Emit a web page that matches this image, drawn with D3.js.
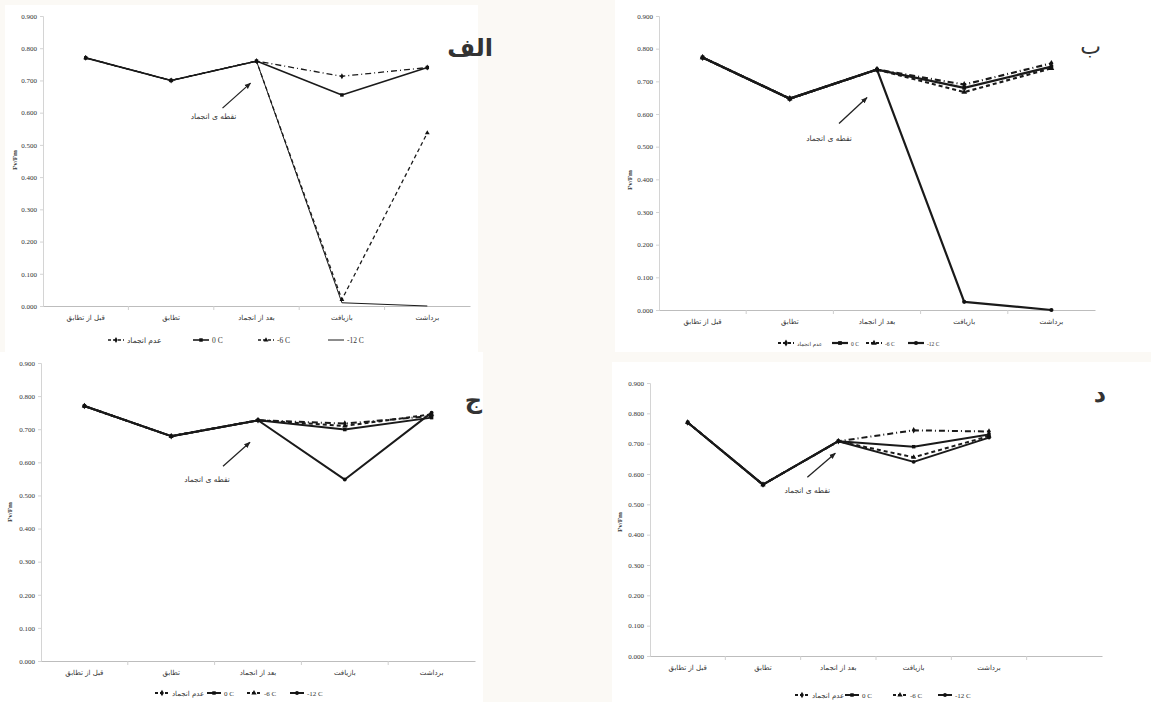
<!DOCTYPE html>
<html>
<head>
<meta charset="utf-8">
<script src="https://cdn.jsdelivr.net/npm/d3@7"></script>
<style>
  body { margin: 0; background: #fbf9f5; }
  svg { display: block; }
  text { font-family: 'Liberation Serif', 'DejaVu Serif', serif; fill: #333; }
  .ar { font-family: 'DejaVu Sans', sans-serif; }
</style>
</head>
<body>
<div id="graph"></div>
<script>
var categories = ['قبل از تطابق', 'تطابق', 'بعد از انجماد', 'بازیافت', 'برداشت']
var seriesNames = ['عدم انجماد', '0 C', '-6 C', '-12 C']
var yTicks = [0, 0.1, 0.2, 0.3, 0.4, 0.5, 0.6, 0.7, 0.8, 0.9]

// panel alef
var alefNoFreeze = [0.770, 0.700, 0.760, 0.713, 0.740]
var alefZero     = [0.770, 0.700, 0.760, 0.655, 0.740]
var alefMinus6   = [0.770, 0.700, 0.760, 0.020, 0.537]
var alefMinus12  = [0.770, 0.700, 0.760, 0.010, 0.000]

// panel be
var beNoFreeze = [0.773, 0.647, 0.736, 0.690, 0.755]
var beZero     = [0.773, 0.647, 0.736, 0.680, 0.745]
var beMinus6   = [0.773, 0.647, 0.736, 0.667, 0.740]
var beMinus12  = [0.773, 0.647, 0.736, 0.025, 0.000]

// panel jim
var jimNoFreeze = [0.770, 0.679, 0.727, 0.717, 0.740]
var jimZero     = [0.770, 0.679, 0.727, 0.699, 0.735]
var jimMinus6   = [0.770, 0.679, 0.727, 0.710, 0.745]
var jimMinus12  = [0.770, 0.679, 0.727, 0.548, 0.750]

// panel dal
var dalNoFreeze = [0.770, 0.565, 0.708, 0.744, 0.740]
var dalZero     = [0.770, 0.565, 0.708, 0.690, 0.730]
var dalMinus6   = [0.770, 0.565, 0.708, 0.655, 0.725]
var dalMinus12  = [0.770, 0.565, 0.708, 0.640, 0.720]

var W = 1151, H = 702
var svg = d3.select('#graph').append('svg').attr('width', W).attr('height', H)

svg.append('defs').append('marker')
  .attr('id', 'arrow').attr('viewBox', '0 0 10 10')
  .attr('refX', 9).attr('refY', 5)
  .attr('markerWidth', 5).attr('markerHeight', 5)
  .attr('orient', 'auto')
  .append('path').attr('d', 'M0,1L10,5L0,9z').attr('fill', '#222')

var dashes = ['6,3,1,3', null, '4,3', null]
var shapes = [d3.symbolDiamond, d3.symbolSquare, d3.symbolTriangle, d3.symbolCircle]

var panels = [
  {
    series: [alefNoFreeze, alefZero, alefMinus6, alefMinus12],
    bg: [5, 5, 473, 347], left: 43, right: 470, top: 16, bottom: 306, slots: 5,
    lw: [1.3, 1.6, 1.3, 1], ms: [10, 12, 10, 0],
    label: 'الف', labelPos: [493, 56], labelSize: 24, labelWeight: 700,
    yTitle: [17, 160],
    arrow: [-34, 47, -6, 22], note: [-43, 58],
    legendY: 340, legendX: [108, 193, 258, 328], legendW: 16, legendFont: 7.5
  },
  {
    series: [beNoFreeze, beZero, beMinus6, beMinus12],
    bg: [615, 0, 536, 352], left: 659, right: 1095, top: 16, bottom: 310, slots: 5,
    lw: [2.2, 2.2, 2.2, 2.2], ms: [14, 14, 14, 14],
    label: 'ب', labelPos: [1101, 54], labelSize: 22, labelWeight: 400,
    yTitle: [632, 180],
    arrow: [-38, 54, -10, 28], note: [-48, 71],
    legendY: 343, legendX: [778, 832, 866, 908], legendW: 16, legendFont: 5.5
  },
  {
    series: [jimNoFreeze, jimZero, jimMinus6, jimMinus12],
    bg: [0, 352, 483, 350], left: 41, right: 475, top: 363, bottom: 661, slots: 5,
    lw: [2, 2, 2, 2], ms: [12, 12, 12, 12],
    label: 'ج', labelPos: [482, 408], labelSize: 24, labelWeight: 700,
    yTitle: [12, 512],
    arrow: [-35, 46, -8, 22], note: [-51, 62],
    legendY: 693, legendX: [155, 207, 247, 290], legendW: 14, legendFont: 7
  },
  {
    series: [dalNoFreeze, dalZero, dalMinus6, dalMinus12],
    bg: [612, 362, 539, 340], left: 650, right: 1102, top: 383, bottom: 656, slots: 6,
    lw: [2, 2, 2, 2], ms: [12, 12, 12, 12],
    label: 'د', labelPos: [1106, 402], labelSize: 24, labelWeight: 700,
    yTitle: [622, 522],
    arrow: [-31, 36, -3, 12], note: [-31, 52],
    legendY: 695, legendX: [795, 845, 893, 938], legendW: 14, legendFont: 7
  }
]

panels.forEach(drawPanel)

function drawPanel(p) {
  var g = svg.append('g')
  g.append('rect')
    .attr('x', p.bg[0]).attr('y', p.bg[1]).attr('width', p.bg[2]).attr('height', p.bg[3])
    .attr('fill', '#fff')

  var x = d3.scaleBand().domain(d3.range(p.slots)).range([p.left, p.right])
  var cx = i => x(i) + x.bandwidth() / 2
  var y = d3.scaleLinear().domain([0, 0.9]).range([p.bottom, p.top])

  // y axis
  var ya = g.append('g').attr('transform', `translate(${p.left},0)`)
    .call(d3.axisLeft(y).tickValues(yTicks).tickFormat(d3.format('.3f')).tickSize(3).tickPadding(3))
  ya.select('.domain').attr('stroke', '#d4d4d4')
  ya.selectAll('.tick line').attr('stroke', '#d4d4d4')
  ya.selectAll('.tick text').attr('font-size', 7).attr('font-family', 'Liberation Serif').attr('fill', '#444')

  // x axis
  var xa = g.append('g').attr('transform', `translate(0,${y(0)})`)
    .call(d3.axisBottom(x).tickSize(0).tickFormat(''))
  xa.select('.domain').attr('stroke', '#bdbdbd').attr('stroke-width', 1.2)
  g.selectAll('.bnd').data(d3.range(1, p.slots)).join('line')
    .attr('x1', d => x(d)).attr('x2', d => x(d))
    .attr('y1', y(0)).attr('y2', y(0) + 4).attr('stroke', '#cfcfcf')

  g.selectAll('.cat').data(categories).join('text')
    .attr('class', 'ar')
    .attr('x', (d, i) => cx(i)).attr('y', y(0) + 14)
    .attr('text-anchor', 'middle').attr('font-size', 7).attr('fill', '#555')
    .text(d => d)

  // y title
  g.append('text')
    .attr('transform', `translate(${p.yTitle[0]},${p.yTitle[1]}) rotate(-90)`)
    .attr('text-anchor', 'middle').attr('font-size', 7).attr('font-weight', 700)
    .text('Fv/Fm')

  // lines
  var line = d3.line().x((d, i) => cx(i)).y(d => y(d))
  var order = [3, 2, 1, 0]
  order.forEach(s => {
    g.append('path')
      .attr('d', line(p.series[s]))
      .attr('fill', 'none').attr('stroke', '#1a1a1a')
      .attr('stroke-width', p.lw[s])
      .attr('stroke-dasharray', dashes[s])
      .attr('stroke-linejoin', 'round')
    if (p.ms[s]) {
      g.selectAll(null).data(p.series[s]).join('path')
        .attr('transform', (d, i) => `translate(${cx(i)},${y(d)})`)
        .attr('d', d3.symbol(shapes[s], p.ms[s]))
        .attr('fill', '#111')
    }
  })

  // freezing point note
  var ax = cx(2), ay = y(p.series[0][2])
  g.append('line')
    .attr('x1', ax + p.arrow[0]).attr('y1', ay + p.arrow[1])
    .attr('x2', ax + p.arrow[2]).attr('y2', ay + p.arrow[3])
    .attr('stroke', '#222').attr('stroke-width', 1.3)
    .attr('marker-end', 'url(#arrow)')
  g.append('text').attr('class', 'ar')
    .attr('x', ax + p.note[0]).attr('y', ay + p.note[1])
    .attr('text-anchor', 'middle').attr('font-size', 7.5)
    .text('نقطه ی انجماد')

  // panel label
  g.append('text').attr('class', 'ar')
    .attr('x', p.labelPos[0]).attr('y', p.labelPos[1])
    .attr('text-anchor', 'end')
    .attr('font-size', p.labelSize).attr('font-weight', p.labelWeight)
    .attr('fill', '#000')
    .text(p.label)

  // legend
  seriesNames.forEach((name, s) => {
    var lx = p.legendX[s], ly = p.legendY
    g.append('line')
      .attr('x1', lx).attr('x2', lx + p.legendW).attr('y1', ly).attr('y2', ly)
      .attr('stroke', '#1a1a1a').attr('stroke-width', Math.max(1, p.lw[s]))
      .attr('stroke-dasharray', dashes[s] ? '3,2' : null)
    if (p.ms[s]) {
      g.append('path')
        .attr('transform', `translate(${lx + p.legendW / 2},${ly})`)
        .attr('d', d3.symbol(shapes[s], p.ms[s]))
        .attr('fill', '#111')
    }
    g.append('text').attr('class', s === 0 ? 'ar' : null)
      .attr('x', lx + p.legendW + 3).attr('y', ly + 2.5)
      .attr('font-size', p.legendFont).attr('fill', '#333')
      .text(name)
  })
}
</script>
</body>
</html>
